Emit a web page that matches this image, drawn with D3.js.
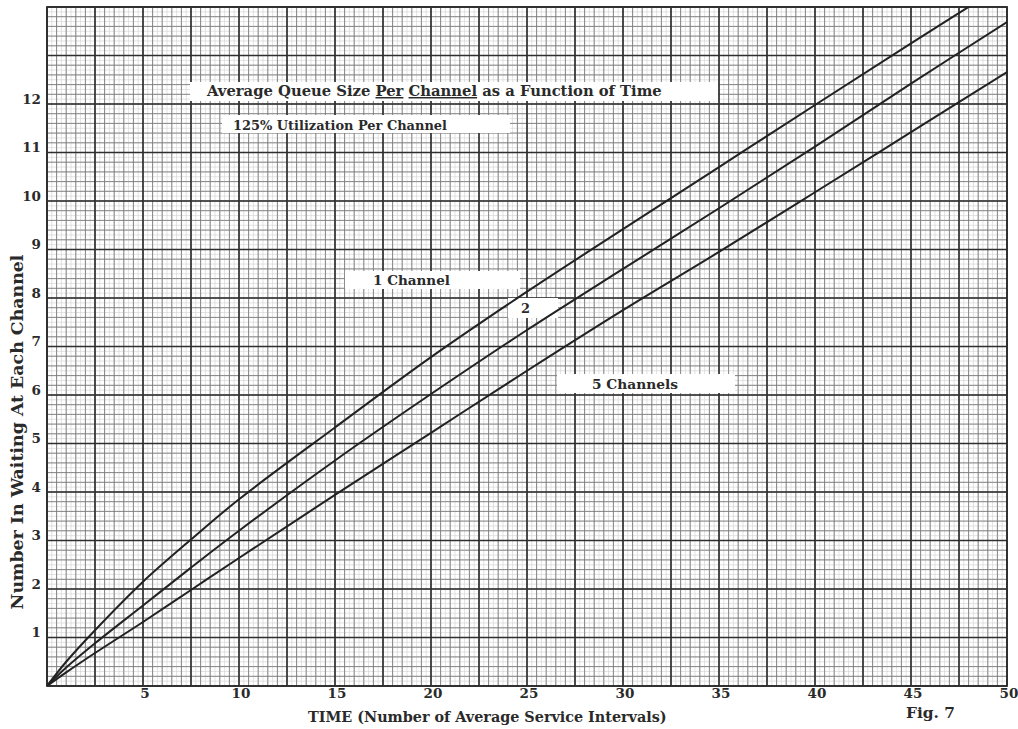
<!DOCTYPE html>
<html>
<head>
<meta charset="utf-8">
<script src="https://cdn.jsdelivr.net/npm/d3@7"></script>
<style>
  body { margin: 0; background: #fff; }
  svg { display: block; }
  text { font-family: "DejaVu Serif", "Liberation Serif", serif; font-weight: bold; fill: #2a2a2a; }
</style>
</head>
<body>
<script>
// values
const time = [0, 1, 2.5, 5, 7.5, 10, 15, 20, 25, 30, 35, 40, 45, 50];
const oneChannel = [0, 0.5, 1.15, 2.15, 3.02, 3.85, 5.33, 6.78, 8.13, 9.42, 10.7, 11.98, 13.25, 14.5];
const twoChannels = [0, 0.38, 0.88, 1.66, 2.44, 3.2, 4.65, 6.02, 7.34, 8.6, 9.85, 11.12, 12.42, 13.69];
const fiveChannels = [0, 0.28, 0.68, 1.32, 1.98, 2.64, 3.94, 5.22, 6.5, 7.75, 8.95, 10.18, 11.42, 12.66];
const xTickLabels = [5, 10, 15, 20, 25, 30, 35, 40, 45, 50];
const yTickLabels = [1, 2, 3, 4, 5, 6, 7, 8, 9, 10, 11, 12];

const W = 1018, H = 729;
const x = d3.scaleLinear().domain([0, 50]).range([47, 1007]);
const y = d3.scaleLinear().domain([0, 14]).range([686, 7]);

const svg = d3.select("body").append("svg").attr("width", W).attr("height", H);

// graph paper
const grid = svg.append("g");
function vlines(step, color, w) {
    grid.append("g").selectAll("line")
        .data(d3.range(0, 50 + 1e-6, step))
        .join("line")
        .attr("x1", d => x(d)).attr("x2", d => x(d))
        .attr("y1", y(0)).attr("y2", y(14))
        .attr("stroke", color).attr("stroke-width", w);
}
function hlines(step, color, w) {
    grid.append("g").selectAll("line")
        .data(d3.range(0, 14 + 1e-6, step))
        .join("line")
        .attr("y1", d => y(d)).attr("y2", d => y(d))
        .attr("x1", x(0)).attr("x2", x(50))
        .attr("stroke", color).attr("stroke-width", w);
}
vlines(0.25, "#d6d6d6", 0.7);
hlines(0.1, "#d6d6d6", 0.7);
vlines(0.5, "#7c7c7c", 0.9);
hlines(0.2, "#7c7c7c", 0.9);
vlines(2.5, "#2e2e2e", 1.6);
hlines(1, "#2e2e2e", 1.6);
grid.append("rect")
    .attr("x", x(0)).attr("y", y(14))
    .attr("width", x(50) - x(0)).attr("height", y(0) - y(14))
    .attr("fill", "none").attr("stroke", "#2e2e2e").attr("stroke-width", 1.8);

// tick labels
svg.append("g").selectAll("text")
    .data(yTickLabels)
    .join("text")
    .attr("x", 41).attr("y", d => y(d) - 4)
    .attr("text-anchor", "end").attr("dominant-baseline", "middle")
    .attr("font-size", 13.5)
    .text(d => d);
svg.append("g").selectAll("text")
    .data(xTickLabels)
    .join("text")
    .attr("x", d => x(d) + 2).attr("y", 698)
    .attr("text-anchor", "middle")
    .attr("font-size", 13.5)
    .text(d => d);

// pasted-on labels
function fit(t, width) {
    const w = t.node().getComputedTextLength();
    const fs = +t.attr("font-size");
    t.attr("font-size", fs * width / w);
}
function label(bx, by, bw, bh, tx, ty, tw, str) {
    svg.append("rect").attr("x", bx).attr("y", by).attr("width", bw).attr("height", bh).attr("fill", "#fff");
    const t = svg.append("text").attr("x", tx).attr("y", ty).attr("font-size", 13);
    if (typeof str === "string") t.text(str);
    else str(t);
    fit(t, tw);
    return t;
}
label(190, 82, 528, 19, 207, 96, 455, t => {
    t.append("tspan").text("Average Queue Size ");
    t.append("tspan").attr("text-decoration", "underline").text("Per");
    t.append("tspan").text(" ");
    t.append("tspan").attr("text-decoration", "underline").text("Channel");
    t.append("tspan").text("  as a Function of Time");
});
label(222, 115, 288, 18, 233, 130, 214, "125% Utilization Per Channel");
label(345, 271, 175, 18, 373, 285, 77, "1 Channel");
label(508, 298, 50, 20, 521, 313, 9, "2");
label(557, 374, 178, 19, 592, 389, 86, "5 Channels");

// curves
svg.append("clipPath").attr("id", "plot").append("rect")
    .attr("x", x(0)).attr("y", y(14)).attr("width", x(50) - x(0)).attr("height", y(0) - y(14));
const line = d3.line().x(d => x(d[0])).y(d => y(d[1])).curve(d3.curveCatmullRom.alpha(0.5));
[oneChannel, twoChannels, fiveChannels].forEach(s => {
    svg.append("path")
        .attr("d", line(time.map((t, i) => [t, s[i]])))
        .attr("clip-path", "url(#plot)")
        .attr("fill", "none").attr("stroke", "#222").attr("stroke-width", 2);
});

// axis titles
const xt = svg.append("text").attr("x", 308).attr("y", 722).attr("font-size", 13)
    .text("TIME (Number of Average Service Intervals)");
fit(xt, 359);
const fig = svg.append("text").attr("x", 906).attr("y", 718).attr("font-size", 13).text("Fig. 7");
fit(fig, 49);
const yt = svg.append("text")
    .attr("transform", "translate(23,432) rotate(-90)")
    .attr("text-anchor", "middle").attr("font-size", 13)
    .text("Number In Waiting At Each Channel");
fit(yt, 355);
</script>
</body>
</html>
